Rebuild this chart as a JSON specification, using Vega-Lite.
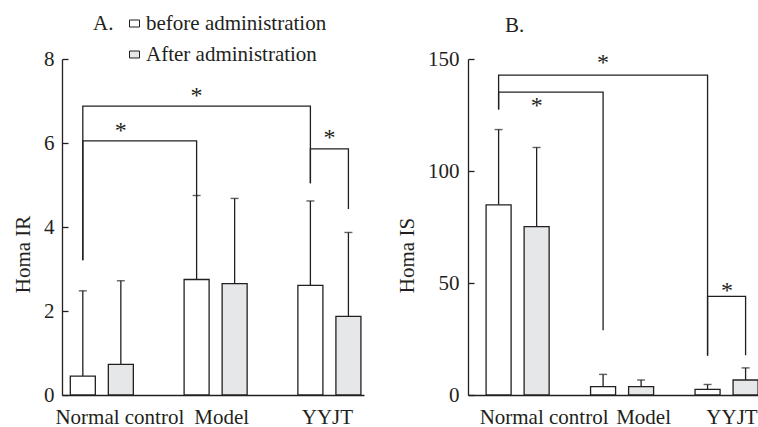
{
  "$schema": "https://vega.github.io/schema/vega-lite/v6.json",
  "padding": {"left": 12, "top": 13, "right": 0, "bottom": 0},
  "autosize": {"type": "pad"},
  "bounds": "flush",
  "spacing": 104,
  "config": {
    "view": {"stroke": null},
    "font": "Liberation Serif",
    "axis": {
      "labelFont": "Liberation Serif", "titleFont": "Liberation Serif",
      "labelFontSize": 21, "titleFontSize": 21,
      "labelColor": "#231f20", "titleColor": "#231f20",
      "domainColor": "#231f20", "tickColor": "#231f20",
      "domainWidth": 1.3, "tickWidth": 1.3, "grid": false,
      "titleFontWeight": "normal"
    },
    "title": {"font": "Liberation Serif", "fontSize": 21, "fontWeight": "normal", "color": "#231f20"}
  },
  "datasets": {
    "barsA": [
      {"group": "Normal control", "series": "before administration", "value": 0.45, "upper": 2.48},
      {"group": "Normal control", "series": "After administration", "value": 0.73, "upper": 2.72},
      {"group": "Model", "series": "before administration", "value": 2.75, "upper": 4.75},
      {"group": "Model", "series": "After administration", "value": 2.65, "upper": 4.68},
      {"group": "YYJT", "series": "before administration", "value": 2.61, "upper": 4.62},
      {"group": "YYJT", "series": "After administration", "value": 1.87, "upper": 3.87}
    ],
    "barsB": [
      {"group": "Normal control", "series": "before administration", "value": 84.9, "upper": 118.5},
      {"group": "Normal control", "series": "After administration", "value": 75.2, "upper": 110.5},
      {"group": "Model", "series": "before administration", "value": 3.7, "upper": 9.2},
      {"group": "Model", "series": "After administration", "value": 3.7, "upper": 6.7},
      {"group": "YYJT", "series": "before administration", "value": 2.5, "upper": 4.7},
      {"group": "YYJT", "series": "After administration", "value": 6.7, "upper": 12.1}
    ],
    "brA": [
      {"id": 1, "step": 0, "group": "Normal control", "series": "before administration", "val": 3.21},
      {"id": 1, "step": 1, "group": "Normal control", "series": "before administration", "val": 6.88},
      {"id": 1, "step": 2, "group": "YYJT", "series": "before administration", "val": 6.88},
      {"id": 1, "step": 3, "group": "YYJT", "series": "before administration", "val": 5.04},
      {"id": 2, "step": 0, "group": "Normal control", "series": "before administration", "val": 3.21},
      {"id": 2, "step": 1, "group": "Normal control", "series": "before administration", "val": 6.05},
      {"id": 2, "step": 2, "group": "Model", "series": "before administration", "val": 6.05},
      {"id": 2, "step": 3, "group": "Model", "series": "before administration", "val": 4.72},
      {"id": 3, "step": 0, "group": "YYJT", "series": "before administration", "val": 5.04},
      {"id": 3, "step": 1, "group": "YYJT", "series": "before administration", "val": 5.86},
      {"id": 3, "step": 2, "group": "YYJT", "series": "After administration", "val": 5.86},
      {"id": 3, "step": 3, "group": "YYJT", "series": "After administration", "val": 4.43}
    ],
    "brB": [
      {"id": 1, "step": 0, "group": "Normal control", "series": "before administration", "val": 127.4},
      {"id": 1, "step": 1, "group": "Normal control", "series": "before administration", "val": 142.8},
      {"id": 1, "step": 2, "group": "YYJT", "series": "before administration", "val": 142.8},
      {"id": 1, "step": 3, "group": "YYJT", "series": "before administration", "val": 17.5},
      {"id": 2, "step": 0, "group": "Normal control", "series": "before administration", "val": 127.4},
      {"id": 2, "step": 1, "group": "Normal control", "series": "before administration", "val": 135.2},
      {"id": 2, "step": 2, "group": "Model", "series": "before administration", "val": 135.2},
      {"id": 2, "step": 3, "group": "Model", "series": "before administration", "val": 28.9},
      {"id": 3, "step": 0, "group": "YYJT", "series": "before administration", "val": 17.6},
      {"id": 3, "step": 1, "group": "YYJT", "series": "before administration", "val": 44},
      {"id": 3, "step": 2, "group": "YYJT", "series": "After administration", "val": 44},
      {"id": 3, "step": 3, "group": "YYJT", "series": "After administration", "val": 17.8}
    ],
    "starA": [
      {"group": "Model", "series": "before administration", "val": 7.12},
      {"group": "Normal control", "series": "After administration", "val": 6.28},
      {"group": "YYJT", "series": null, "val": 6.12}
    ],
    "starB": [
      {"group": "Model", "series": "before administration", "val": 148},
      {"group": "Normal control", "series": "After administration", "val": 129.2},
      {"group": "YYJT", "series": null, "val": 46.6}
    ]
  },
  "hconcat": [
    {
      "width": 302,
      "height": 336,
      "layer": [
        {
          "data": {"name": "barsA"},
          "mark": {"type": "bar", "stroke": "#231f20", "strokeWidth": 1.3},
          "encoding": {
            "x": {"field": "group", "type": "nominal", "title": null,
              "scale": {"domain": ["Normal control", "Model", "YYJT"], "paddingInner": 0.446, "paddingOuter": 0.05, "align": 0.73},
              "axis": {"ticks": false, "labelPadding": 11, "labelAngle": 0,
                "labelOffset": {"condition": [{"test": "datum.value === 'Normal control'", "value": 18}, {"test": "datum.value === 'Model'", "value": 6}], "value": -2}}},
            "xOffset": {"field": "series", "type": "nominal",
              "scale": {"domain": ["before administration", "After administration"], "paddingInner": 0.342, "paddingOuter": 0}},
            "y": {"field": "value", "type": "quantitative", "title": "Homa IR",
              "scale": {"domain": [0, 8], "nice": false},
              "axis": {"values": [0, 2, 4, 6, 8], "tickSize": -6, "labelPadding": 14, "titleX": -39, "titleY": 195, "titleBaseline": "middle"}},
            "fill": {"field": "series", "type": "nominal",
              "scale": {"domain": ["before administration", "After administration"], "range": ["#ffffff", "#e6e7e8"]},
              "legend": {"orient": "none", "legendX": 31, "legendY": -46, "title": "A.", "titleOrient": "left",
                "titleFont": "Liberation Serif", "titleFontSize": 21, "titleFontWeight": "normal", "titleColor": "#231f20",
                "titleAnchor": "start", "titleBaseline": "top", "titlePadding": 10, "padding": 0,
                "labelFont": "Liberation Serif", "labelFontSize": 21, "labelColor": "#231f20", "labelOffset": 1, "labelLimit": 0,
                "symbolType": "M-1,-0.7H1V0.7H-1Z", "symbolSize": 100, "symbolStrokeColor": "#231f20", "symbolStrokeWidth": 1,
                "rowPadding": 9,
                "encode": {"symbols": {"update": {"stroke": {"value": "#231f20"}, "strokeWidth": {"value": 1}}}}}}
          }
        },
        {
          "data": {"name": "barsA"},
          "mark": {"type": "rule", "stroke": "#231f20", "strokeWidth": 1.3},
          "encoding": {
            "x": {"field": "group", "type": "nominal", "title": null},
            "xOffset": {"field": "series", "type": "nominal"},
            "y": {"field": "value", "type": "quantitative", "title": "Homa IR"},
            "y2": {"field": "upper"}
          }
        },
        {
          "data": {"name": "barsA"},
          "mark": {"type": "tick", "color": "#231f20", "thickness": 1.4, "size": 8},
          "encoding": {
            "x": {"field": "group", "type": "nominal", "title": null},
            "xOffset": {"field": "series", "type": "nominal"},
            "y": {"field": "upper", "type": "quantitative", "title": "Homa IR"}
          }
        },
        {
          "data": {"name": "brA"},
          "mark": {"type": "line", "color": "#231f20", "strokeWidth": 1.3},
          "encoding": {
            "x": {"field": "group", "type": "nominal", "title": null},
            "xOffset": {"field": "series", "type": "nominal"},
            "y": {"field": "val", "type": "quantitative", "title": "Homa IR"},
            "detail": {"field": "id", "type": "nominal"},
            "order": {"field": "step", "type": "quantitative"}
          }
        },
        {
          "data": {"name": "starA"},
          "transform": [{"filter": "datum.series != null"}],
          "mark": {"type": "text", "text": "*", "font": "Liberation Serif", "fontSize": 24, "color": "#231f20", "baseline": "middle"},
          "encoding": {
            "x": {"field": "group", "type": "nominal", "title": null},
            "xOffset": {"field": "series", "type": "nominal"},
            "y": {"field": "val", "type": "quantitative", "title": "Homa IR"}
          }
        },
        {
          "data": {"name": "starA"},
          "transform": [{"filter": "datum.series == null"}],
          "mark": {"type": "text", "text": "*", "font": "Liberation Serif", "fontSize": 24, "color": "#231f20", "baseline": "middle"},
          "encoding": {
            "x": {"field": "group", "type": "nominal", "title": null},
            "y": {"field": "val", "type": "quantitative", "title": "Homa IR"}
          }
        }
      ]
    },
    {
      "width": 291,
      "height": 336,
      "title": {"text": "B.", "anchor": "start", "frame": "group", "dx": 37, "offset": 12},
      "layer": [
        {
          "data": {"name": "barsB"},
          "mark": {"type": "bar", "stroke": "#231f20", "strokeWidth": 1.3},
          "encoding": {
            "x": {"field": "group", "type": "nominal", "title": null,
              "scale": {"domain": ["Normal control", "Model", "YYJT"], "paddingInner": 0.388, "paddingOuter": 0.0866, "align": 1},
              "axis": {"ticks": false, "labelPadding": 11, "labelAngle": 0,
                "labelOffset": {"condition": [{"test": "datum.value === 'Normal control'", "value": 26}, {"test": "datum.value === 'Model'", "value": 21}], "value": 5}}},
            "xOffset": {"field": "series", "type": "nominal",
              "scale": {"domain": ["before administration", "After administration"], "paddingInner": 0.359, "paddingOuter": 0}},
            "y": {"field": "value", "type": "quantitative", "title": "Homa IS",
              "scale": {"domain": [0, 150], "nice": false},
              "axis": {"values": [0, 50, 100, 150], "tickSize": -6, "labelPadding": 15, "titleX": -61, "titleY": 196, "titleBaseline": "middle"}},
            "fill": {"field": "series", "type": "nominal",
              "scale": {"domain": ["before administration", "After administration"], "range": ["#ffffff", "#e6e7e8"]},
              "legend": null}
          }
        },
        {
          "data": {"name": "barsB"},
          "mark": {"type": "rule", "stroke": "#231f20", "strokeWidth": 1.3},
          "encoding": {
            "x": {"field": "group", "type": "nominal", "title": null},
            "xOffset": {"field": "series", "type": "nominal"},
            "y": {"field": "value", "type": "quantitative", "title": "Homa IS"},
            "y2": {"field": "upper"}
          }
        },
        {
          "data": {"name": "barsB"},
          "mark": {"type": "tick", "color": "#231f20", "thickness": 1.4, "size": 8},
          "encoding": {
            "x": {"field": "group", "type": "nominal", "title": null},
            "xOffset": {"field": "series", "type": "nominal"},
            "y": {"field": "upper", "type": "quantitative", "title": "Homa IS"}
          }
        },
        {
          "data": {"name": "brB"},
          "mark": {"type": "line", "color": "#231f20", "strokeWidth": 1.3},
          "encoding": {
            "x": {"field": "group", "type": "nominal", "title": null},
            "xOffset": {"field": "series", "type": "nominal"},
            "y": {"field": "val", "type": "quantitative", "title": "Homa IS"},
            "detail": {"field": "id", "type": "nominal"},
            "order": {"field": "step", "type": "quantitative"}
          }
        },
        {
          "data": {"name": "starB"},
          "transform": [{"filter": "datum.series != null"}],
          "mark": {"type": "text", "text": "*", "font": "Liberation Serif", "fontSize": 24, "color": "#231f20", "baseline": "middle"},
          "encoding": {
            "x": {"field": "group", "type": "nominal", "title": null},
            "xOffset": {"field": "series", "type": "nominal"},
            "y": {"field": "val", "type": "quantitative", "title": "Homa IS"}
          }
        },
        {
          "data": {"name": "starB"},
          "transform": [{"filter": "datum.series == null"}],
          "mark": {"type": "text", "text": "*", "font": "Liberation Serif", "fontSize": 24, "color": "#231f20", "baseline": "middle"},
          "encoding": {
            "x": {"field": "group", "type": "nominal", "title": null},
            "y": {"field": "val", "type": "quantitative", "title": "Homa IS"}
          }
        }
      ]
    }
  ]
}
